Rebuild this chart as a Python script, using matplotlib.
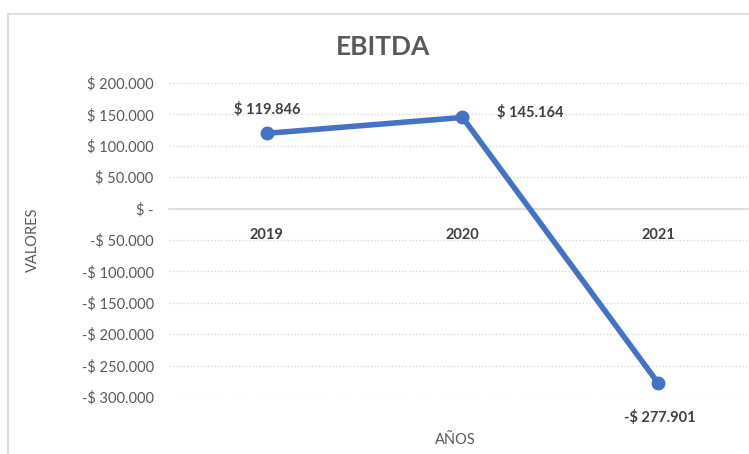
import matplotlib
matplotlib.use("Agg")
import matplotlib.pyplot as plt
from matplotlib.patches import Rectangle
from matplotlib.ticker import FuncFormatter

YEARS = ["2019", "2020", "2021"]
EBITDA = [119846, 145164, -277901]
LABEL_OFFSETS = [(0, 24), (68, 5), (2, -34)]

TEXT_COLOR = "#595959"
LINE_COLOR = "#4472C4"
GRID_COLOR = "#d9d9d9"

plt.rcParams['font.family'] = ['Lato', 'DejaVu Sans']


def money(v, pos=None):
    if v == 0:
        return "$ -"
    s = "{:,.0f}".format(abs(v)).replace(",", ".")
    return ("-$ " if v < 0 else "$ ") + s


fig = plt.figure(figsize=(7.49, 4.54), dpi=100)
fig.patches.append(Rectangle((8 / 749, -0.1), 1.2, 1 - 14 / 454 + 0.1, transform=fig.transFigure,
                             fill=False, edgecolor=GRID_COLOR, linewidth=1.2))

ax = fig.add_axes([169 / 749, 1 - 397 / 454, 587 / 749, 314 / 454])
x = list(range(len(YEARS)))
ax.plot(x, EBITDA, color=LINE_COLOR, linewidth=4, marker="o", markersize=9,
        solid_capstyle="round", zorder=3)
ax.set_xlim(-0.5, 2.5)
ax.set_ylim(-300000, 200000)
ax.set_yticks(range(-300000, 200001, 50000))
ax.yaxis.set_major_formatter(FuncFormatter(money))
ax.set_xticks(x)
ax.set_xticklabels(YEARS)
ax.grid(axis="y", color=GRID_COLOR, linestyle=(0, (1, 1.5)), linewidth=1)
ax.set_axisbelow(True)
for side in ["top", "right", "left"]:
    ax.spines[side].set_visible(False)
ax.spines["bottom"].set_position(("data", 0))
ax.spines["bottom"].set_color(GRID_COLOR)
ax.spines["bottom"].set_linewidth(1.2)
ax.tick_params(axis="both", length=0, colors=TEXT_COLOR, labelsize=10.5)
ax.tick_params(axis="x", pad=14, colors="#404040")
ax.tick_params(axis="y", pad=11)
for lbl in ax.get_xticklabels():
    lbl.set_fontweight("bold")

for xi, v, off in zip(x, EBITDA, LABEL_OFFSETS):
    ax.annotate(money(v), (xi, v), xytext=off, textcoords="offset pixels",
                ha="center", va="center", fontsize=10.5, fontweight="bold", color="#404040")

fig.text(383 / 749, 1 - 47 / 454, "EBITDA", ha="center", va="center",
         fontsize=19, fontweight="bold", color=TEXT_COLOR)
fig.text(33 / 749, 1 - 240 / 454, "VALORES", ha="center", va="center", rotation=90,
         fontsize=10.5, color=TEXT_COLOR)
fig.text(455 / 749, 1 - 440 / 454, "AÑOS", ha="center", va="center",
         fontsize=10.5, color=TEXT_COLOR)

fig.savefig("out.png", dpi=100)
